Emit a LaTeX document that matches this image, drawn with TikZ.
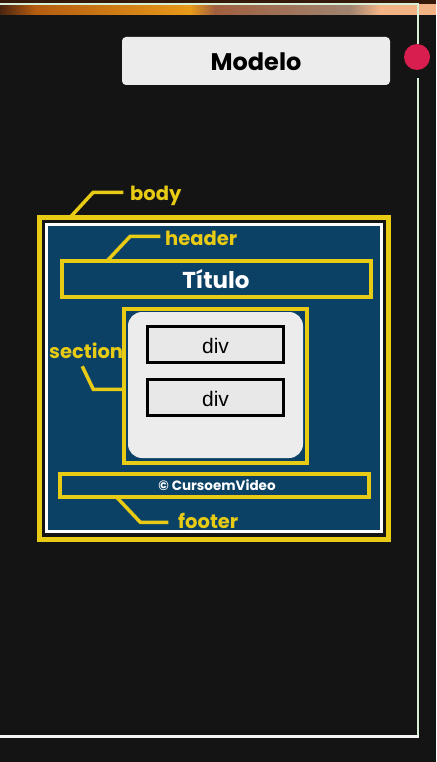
\documentclass[tikz,border=0pt]{standalone}
\usepackage{fontspec}
\setmainfont{Poppins}
\newfontfamily\divfont{Liberation Sans}
\definecolor{bg}{HTML}{141414}
\definecolor{ylw}{HTML}{E8CB14}
\definecolor{navy}{HTML}{0C4166}
\definecolor{lgray}{HTML}{ECECEC}
\definecolor{dgray}{HTML}{E8E8E8}
\definecolor{rail}{HTML}{D6EFD6}
\definecolor{dot}{HTML}{D81E4E}
\definecolor{bA}{HTML}{4A2410}
\definecolor{bB}{HTML}{B45C10}
\definecolor{bC}{HTML}{E89A18}
\definecolor{bD}{HTML}{A06040}
\definecolor{bE}{HTML}{A08470}
\definecolor{bF}{HTML}{F2B486}
\tikzset{
  box/.style={rectangle, inner sep=0pt, outer sep=0pt, anchor=north west},
  ybox/.style={box, draw=ylw, line width=3.5pt},
  dbox/.style={box, draw=black, line width=3pt, fill=dgray},
  conn/.style={draw=ylw, line width=3.5pt},
  lbl/.style={text=ylw, font=\bfseries\fontsize{19.5}{20}\selectfont, inner sep=0pt, anchor=base west},
  txt/.style={inner sep=0pt, anchor=base},
}
\begin{document}
\begin{tikzpicture}[x=1pt,y=-1pt]
\useasboundingbox (0,0) rectangle (436,762);
\fill[bg] (0,0) rectangle (436,762);
% top band
\fill[bA!70!black] (0,0) rectangle (436,4);
\shade[left color=bA, right color=bB] (0,4) rectangle (35,15);
\shade[left color=bB, right color=bC] (35,4) rectangle (190,15);
\shade[left color=bC, right color=bD] (190,4) rectangle (215,15);
\shade[left color=bD, right color=bE] (215,4) rectangle (350,15);
\shade[left color=bE, right color=bF] (350,4) rectangle (380,15);
\fill[bF] (380,4) rectangle (436,15);
% rails
\draw[rail, line width=2pt] (0,4.5) -- (418,4.5) -- (418,44);
\draw[rail, line width=2pt] (418,78) -- (418,736);
\draw[white!92!gray, line width=3pt] (0,736.5) -- (419,736.5);
\node[circle, fill=dot, minimum size=26pt, inner sep=0pt] (dotn) at (417,57) {};
% title
\node[box, fill=lgray, rounded corners=4pt, minimum width=268pt, minimum height=48pt] (model) at (122,37) {};
\node[txt, font=\bfseries\fontsize{24}{24}\selectfont] (modeltxt) at (256,71) {Modelo};
% body
\node[ybox, line width=4.5pt, minimum width=349pt, minimum height=322pt] (body) at (39.25,217.25) {};
\node[box, draw=white, fill=navy, line width=2.8pt, minimum width=335pt, minimum height=307pt] (inner) at (46.4,224.4) {};
% header
\node[ybox, minimum width=309pt, minimum height=36pt] (header) at (61.75,260.75) {};
\node[txt, text=white, font=\bfseries\fontsize{23}{23}\selectfont] (titulo) at (216,288) {Título};
% section
\node[ybox, minimum width=183pt, minimum height=154pt] (section) at (123.75,308.75) {};
\node[box, fill=lgray, rounded corners=14pt, minimum width=175pt, minimum height=146pt] (sbox) at (128,312) {};
\node[dbox, minimum width=136pt, minimum height=36pt] (div1) at (147.5,326.5) {};
\node[dbox, minimum width=136pt, minimum height=36pt] (div2) at (147.5,379.5) {};
\node[txt, font=\divfont\fontsize{21}{21}\selectfont] (div1t) at (215.5,353) {div};
\node[txt, font=\divfont\fontsize{21}{21}\selectfont] (div2t) at (215.5,406) {div};
% footer
\node[ybox, minimum width=309pt, minimum height=23pt] (footer) at (59.75,473.75) {};
\node[txt, text=white, font=\bfseries\fontsize{13.5}{14}\selectfont] (copy) at (217,490) {© CursoemVideo};
% labels
\node[lbl] (bodyl) at (130,200) {body};
\node[lbl] (headerl) at (165,245) {header};
\node[lbl] (sectionl) at (49,358) {section};
\node[lbl] (footerl) at (178,528) {footer};
% connectors
\draw[conn] (body.north west) ++(31,0) -- ++(23,-25) -- ++(30,0);
\draw[conn] (header.north west) ++(45.5,0) -- ++(23,-24.5) -- ++(30,0);
\draw[conn] (section.north west) ++(0,80.5) -- ++(-30.5,0) -- ++(-11,-23);
\draw[conn] (footer.south west) ++(56.5,0) -- ++(24,25.5) -- ++(28,0);
\end{tikzpicture}
\end{document}
